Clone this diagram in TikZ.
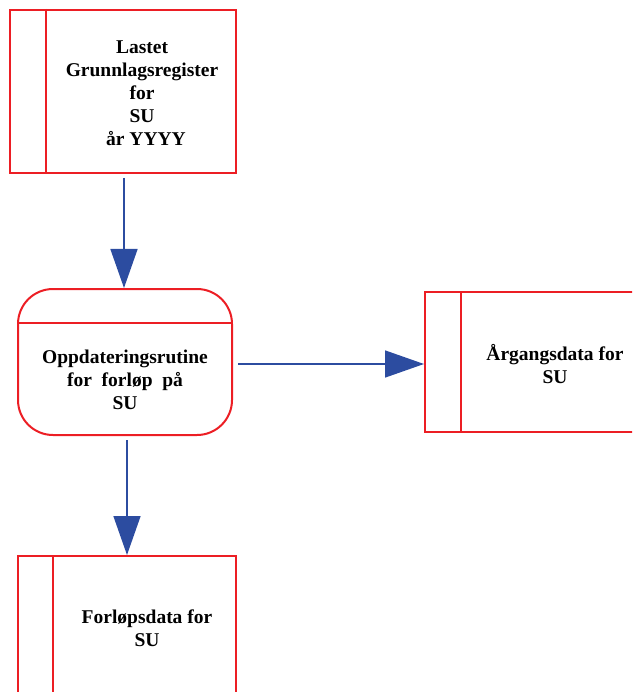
\documentclass[tikz,border=0pt]{standalone}
\usepackage{fontspec}
\setmainfont{Liberation Serif}
\usetikzlibrary{arrows.meta}
\definecolor{boxred}{RGB}{236,30,36}
\definecolor{flowblue}{RGB}{44,76,160}

\begin{document}
\begin{tikzpicture}[x=1pt,y=-1pt,
  frame/.style={draw=boxred, line width=2pt},
  store/.style={frame, rectangle, inner sep=0pt},
  proc/.style={frame, rectangle, rounded corners=35pt, inner sep=0pt},
  lbl/.style={align=center, font=\fontsize{19.5}{23}\selectfont\bfseries, inner sep=0pt},
  flow/.style={draw=flowblue, line width=1.5pt, -{Triangle[width=27pt,length=39pt]}}]
\useasboundingbox (0,0) rectangle (632,692);
\clip (0,0) rectangle (632,692);

% data stores (outer frames) with their left strips
\node[store, minimum width=226pt, minimum height=163pt] (reg) at (123,91.5) {};
\draw[frame] ([xshift=37pt]reg.north west) -- ([xshift=37pt]reg.south west);
\node[lbl] (reglbl) at (142,93) {Lastet\\Grunnlagsregister\\for\\SU\\\hspace*{8pt}år YYYY};

\node[store, minimum width=223pt, minimum height=140pt] (arg) at (536.5,362) {};
\draw[frame] ([xshift=37pt]arg.north west) -- ([xshift=37pt]arg.south west);
\node[lbl] (arglbl) at (555,364) {Årgangsdata for\\SU};

\node[store, minimum width=218pt, minimum height=174pt] (forl) at (127,643) {};
\draw[frame] ([xshift=36pt]forl.north west) -- ([xshift=36pt]forl.south west);
\node[lbl] (forllbl) at (147,628) {Forløpsdata for\\SU};

% process box with its header band
\node[proc, minimum width=214pt, minimum height=146pt] (rut) at (125,362) {};
\draw[frame] (rut.west |- 0,323) -- (rut.east |- 0,323);
\node[lbl] (rutlbl) at (125,380) {Oppdateringsrutine\\for\ \ forløp\ \ på\\SU};

% flows
\coordinate (a1) at (124,178);
\draw[flow] (a1) -- (a1 |- rut.north);
\coordinate (a2) at (238,364);
\draw[flow] (a2) -- (a2 -| arg.west);
\coordinate (a3) at (127,440);
\draw[flow] (a3) -- (a3 |- forl.north);
\end{tikzpicture}
\end{document}
